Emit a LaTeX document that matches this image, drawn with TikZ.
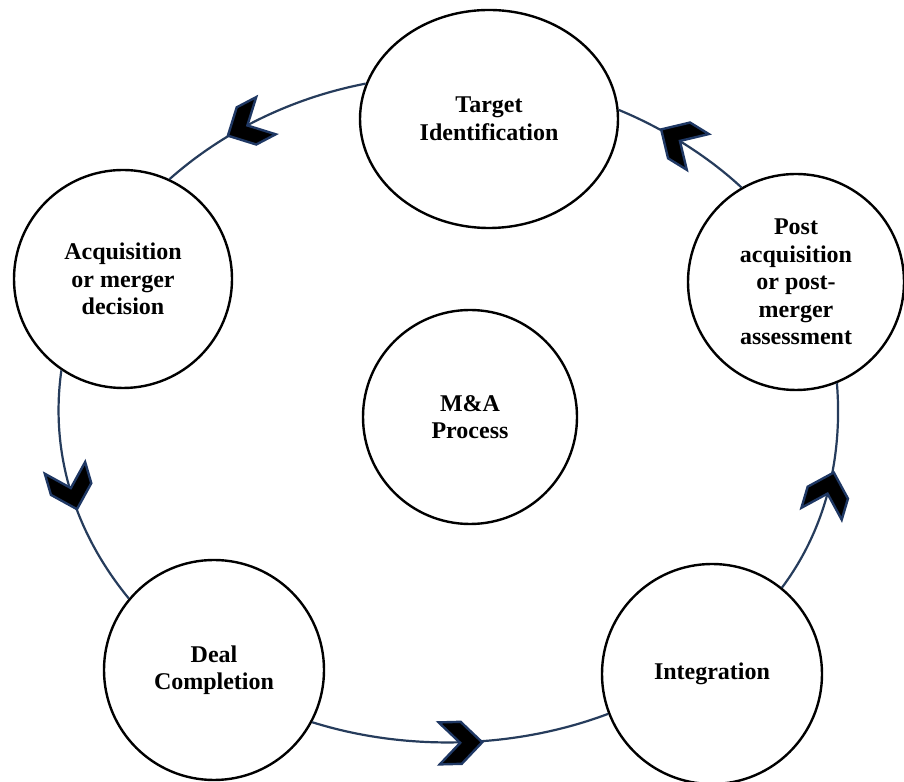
\documentclass[tikz,border=0pt]{standalone}
\usepackage{fontspec}
\setmainfont{Liberation Serif}
\usetikzlibrary{shapes.geometric}
\definecolor{linkblue}{RGB}{38,60,92}
\definecolor{chevblue}{RGB}{31,56,100}
\begin{document}
\begin{tikzpicture}[x=1pt,y=1pt,
  stage/.style={circle, draw=black, line width=2.4pt, fill=white, inner sep=0pt,
    minimum size=218pt, align=center, font=\bfseries\fontsize{24}{27.5}\selectfont},
  link/.style={draw=linkblue, line width=2.2pt},
  chevstyle/.style={fill=black, draw=chevblue, line width=2.4pt, line join=miter},
  chev/.pic={\path[chevstyle] (20,0) -- (-1,21) -- (-23,21) -- (-2,0) -- (-23,-21) -- (-1,-21) -- cycle;}]
\useasboundingbox (0,0) rectangle (904,781);
\fill[white] (0,0) rectangle (904,781);

\node[stage, ellipse, minimum width=258pt, minimum height=218pt] (tgt) at (489,662) {Target\\Identification};
\node[stage] (acq) at (123,502) {Acquisition\\or merger\\decision};
\node[stage, minimum size=216pt] (post) at (796,499) {Post\\acquisition\\or post-\\merger\\assessment};
\node[stage, minimum size=220pt] (deal) at (214,111) {Deal\\Completion};
\node[stage, minimum size=220pt] (integ) at (712,107) {Integration};
\node[stage, minimum size=214pt] (ma) at (470,364) {M\&A\\Process};

\draw[link] (tgt.164.7) .. controls +(-74.7,-14.3) and +(53.1,47.1) .. (acq.65.3);
\draw[link] (acq.236.5) .. controls +(-11.5,-81.5) and +(-55.1,67.2) .. (deal.140.4);
\draw[link] (deal.332.6) .. controls +(94.9,-29.8) and +(-92.5,-34.8) .. (integ.201.3);
\draw[link] (integ.51.8) .. controls +(45.1,60.3) and +(5.8,-71.4) .. (post.292.8);
\draw[link] (post.120.7) .. controls +(-33.5,31.2) and +(44.7,-18.4) .. (tgt.4);

\pic[rotate=207.7] at (245.6,654.6) {chev};
\pic[rotate=286.2] at (71.4,291.0) {chev};
\pic[rotate=1.5] at (462.2,38.2) {chev};
\pic[rotate=73.5] at (828.1,289.3) {chev};
\pic[rotate=148.4] at (678.2,641.1) {chev};
\end{tikzpicture}
\end{document}
